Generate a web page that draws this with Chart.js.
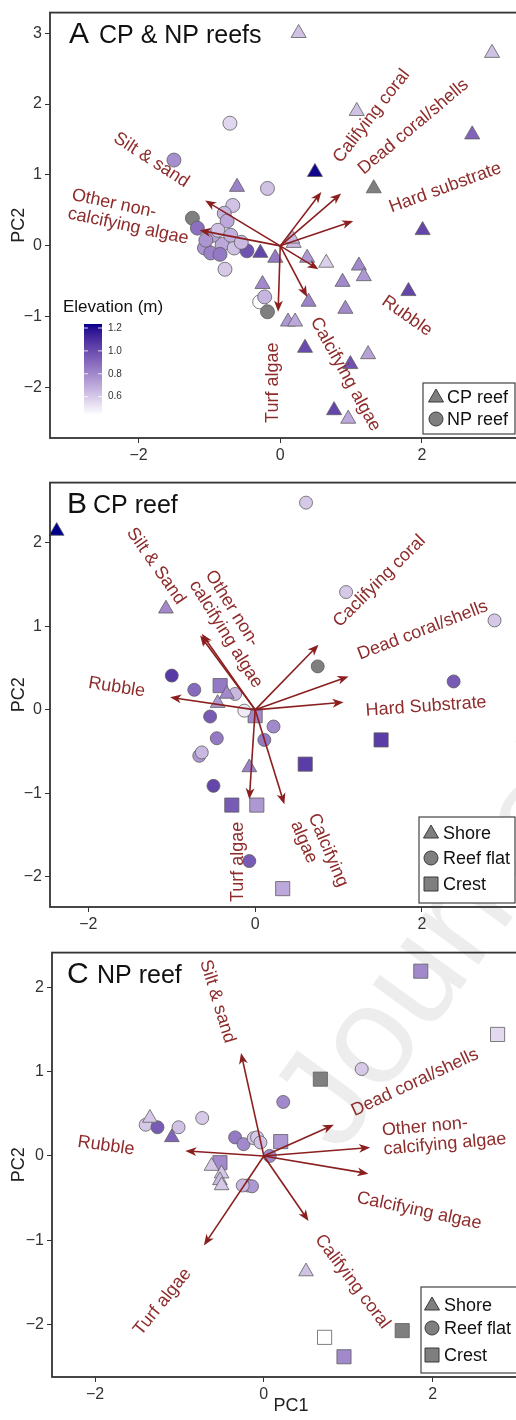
<!DOCTYPE html>
<html>
<head>
<meta charset="utf-8">
<script src="https://cdn.jsdelivr.net/npm/chart.js@4.4.1/dist/chart.umd.min.js"></script>
<style>
  body { margin: 0; width: 516px; height: 1420px; overflow: hidden; background: #fff; position: relative; }
  canvas { position: absolute; left: 0; }
</style>
</head>
<body>
<canvas id="mark" width="516" height="1420" style="top:0"></canvas>
<canvas id="chartA" width="532" height="470" style="top:0"></canvas>
<canvas id="chartB" width="532" height="470" style="top:470px"></canvas>
<canvas id="chartC" width="532" height="480" style="top:940px"></canvas>
<script>
// ---- Panel A: CP & NP reefs ----
var aXTicks = [-2, 0, 2];
var aYTicks = [-2, -1, 0, 1, 2, 3];
var aCpX = [0.26, 2.99, 1.08, 2.71, 0.49, 1.32, 2.01, -0.61, -0.28, -0.07, 0.19, 0.17, 0.38, 0.65, 1.11, 1.18, 0.88, 1.81, -0.25, 0.40, 0.92, 0.11, 0.21, 0.35, 1.24, 0.99, 0.76, 0.96];
var aCpY = [3.00, 2.72, 1.90, 1.57, 1.04, 0.81, 0.22, 0.83, -0.10, -0.17, 0.04, 0.10, -0.17, -0.24, -0.28, -0.43, -0.51, -0.64, -0.54, -0.79, -0.89, -1.07, -1.07, -1.44, -1.53, -1.67, -2.32, -2.44];
var aCpElev = [0.62, 0.62, 0.62, 0.92, 1.22, null, 1.02, 0.82, 1.02, 0.85, 0.65, 0.65, 0.75, 0.58, 0.8, 0.75, 0.8, 1.02, 0.8, 0.82, 0.8, 0.75, 0.7, 1.0, 0.72, 0.98, 1.02, 0.7];
var aNpX = [-0.71, -1.50, -0.67, -1.24, -1.17, -0.79, -0.75, -0.18, -1.07, -0.98, -0.82, -0.65, -0.47, -0.78, -0.29, -0.22, -0.18, -0.95, -0.88, -1.05, -0.70, -0.85, -0.55];
var aNpY = [1.73, 1.21, 0.57, 0.39, 0.25, 0.46, 0.35, 0.81, -0.03, -0.10, 0.02, -0.03, -0.07, -0.33, -0.79, -0.72, -0.93, 0.15, 0.22, 0.08, 0.15, -0.12, 0.05];
var aNpElev = [0.56, 0.78, 0.62, null, 0.88, 0.66, 0.7, 0.62, 0.76, 0.82, 0.7, 0.62, 0.98, 0.6, 0.45, 0.66, null, 0.72, 0.62, 0.76, 0.68, 0.85, 0.65];
var aVars = ['Califying coral', 'Dead coral/shells', 'Hard substrate', 'Rubble', 'Calcifying algae', 'Turf algae', 'Other non-\ncalcifying algae', 'Silt & sand'];
var aLoadX = [0.58, 0.86, 1.03, 0.54, 0.38, -0.03, -1.14, -1.06];
var aLoadY = [0.76, 0.74, 0.35, -0.33, -0.72, -0.93, 0.22, 0.64];

// ---- Panel B: CP reef ----
var bXTicks = [-2, 0, 2];
var bYTicks = [-2, -1, 0, 1, 2];
var bShoreX = [-2.38, -1.07, -0.34, -0.07, -0.45];
var bShoreY = [2.14, 1.21, 0.19, -0.69, 0.08];
var bShoreElev = [1.24, 0.8, 0.8, 0.82, 0.75];
var bFlatX = [-1.00, -0.73, -0.24, 0.61, 1.09, 2.87, 0.75, 2.38, -0.54, -0.46, -0.67, -0.64, -0.50, -0.13, -0.07, 0.22, 0.11];
var bFlatY = [0.41, 0.24, 0.19, 2.48, 1.41, 1.07, 0.52, 0.34, -0.08, -0.34, -0.55, -0.51, -0.91, -0.01, -1.81, -0.20, -0.36];
var bFlatElev = [1.06, 0.9, 0.65, 0.6, 0.6, 0.6, null, 0.95, 0.95, 0.85, 0.75, 0.65, 1.02, 0.5, 0.95, 0.8, 0.85];
var bCrestX = [-0.42, -0.28, 0.00, 1.51, 0.60, 0.02, 0.33];
var bCrestY = [0.29, -1.14, -0.07, -0.36, -0.65, -1.14, -2.14];
var bCrestElev = [0.85, 0.95, 0.8, 1.05, 1.05, 0.75, 0.7];
var bVars = ['Caclifying coral', 'Dead coral/shells', 'Hard Substrate', 'Rubble', 'Calcifying\nalgae', 'Turf algae', 'Other non-\ncalcifying algae', 'Silt & Sand'];
var bLoadX = [0.76, 1.12, 1.06, -1.02, 0.35, -0.07, -0.66, -0.64];
var bLoadY = [0.78, 0.40, 0.09, 0.15, -1.13, -1.07, 0.89, 0.91];

// ---- Panel C: NP reef ----
var cXTicks = [-2, 0, 2];
var cYTicks = [-2, -1, 0, 1, 2];
var cShoreX = [-1.35, -1.09, -0.62, -0.50, -0.52, -0.50, 0.50];
var cShoreY = [0.45, 0.22, -0.12, -0.21, -0.29, -0.35, -1.37];
var cShoreElev = [0.6, 0.92, 0.6, 0.6, 0.65, 0.6, 0.62];
var cFlatX = [-1.40, -1.26, -1.01, -0.73, -0.34, -0.24, -0.12, 1.16, 0.23, -0.08, -0.04, 0.07, -0.19, -0.14, -0.25];
var cFlatY = [0.37, 0.34, 0.34, 0.45, 0.22, 0.14, 0.21, 1.03, 0.64, 0.22, 0.16, 0.00, -0.35, -0.36, -0.35];
var cFlatElev = [0.6, 0.95, 0.62, 0.6, 0.85, 0.8, 0.6, 0.6, 0.8, 0.6, 0.62, 0.8, 0.7, 0.75, 0.65];
var cCrestX = [1.86, 2.77, 0.67, 0.20, -0.52, 0.72, 0.95, 1.64];
var cCrestY = [2.19, 1.44, 0.91, 0.17, -0.08, -2.15, -2.38, -2.07];
var cCrestElev = [0.8, 0.55, null, 0.75, 0.8, 0.44, 0.8, null];
var cVars = ['Califying coral', 'Dead coral/shells', 'Other non-\ncalcifying algae', 'Rubble', 'Calcifying algae', 'Turf algae', 'Silt & sand'];
var cLoadX = [0.53, 0.83, 1.26, -0.93, 1.24, -0.71, -0.27];
var cLoadY = [-0.77, 0.37, 0.10, 0.06, -0.21, -1.06, 1.22];

// elevation colour bar
var elevRange = [0.44, 1.235];
var elevBreaks = [0.6, 0.8, 1.0, 1.2];

var FONT = '"Liberation Sans", Arial, sans-serif';
var RED = '#8b1f1f';
var TXT = '#8e2c2c';

// white -> dark blue, interpolated in Lab like ggplot
function lin(c) { c /= 255; return c <= 0.04045 ? c / 12.92 : Math.pow((c + 0.055) / 1.055, 2.4); }
function gam(c) { c = c <= 0.0031308 ? 12.92 * c : 1.055 * Math.pow(c, 1 / 2.4) - 0.055; return Math.round(Math.max(0, Math.min(1, c)) * 255); }
function toLab(r, g, b) {
    r = lin(r); g = lin(g); b = lin(b);
    var X = (0.4124 * r + 0.3576 * g + 0.1805 * b) / 0.95047;
    var Y = 0.2126 * r + 0.7152 * g + 0.0722 * b;
    var Z = (0.0193 * r + 0.1192 * g + 0.9505 * b) / 1.08883;
    function f(t) { return t > 0.008856 ? Math.cbrt(t) : 7.787 * t + 16 / 116; }
    return [116 * f(Y) - 16, 500 * (f(X) - f(Y)), 200 * (f(Y) - f(Z))];
}
function fromLab(L, a, b) {
    var fy = (L + 16) / 116, fx = fy + a / 500, fz = fy - b / 200;
    function fi(t) { return t > 0.206893 ? t * t * t : (t - 16 / 116) / 7.787; }
    var X = fi(fx) * 0.95047, Y = fi(fy), Z = fi(fz) * 1.08883;
    return 'rgb(' + gam(3.2406 * X - 1.5372 * Y - 0.4986 * Z) + ',' +
        gam(-0.9689 * X + 1.8758 * Y + 0.0415 * Z) + ',' +
        gam(0.0557 * X - 0.2040 * Y + 1.0570 * Z) + ')';
}
var LOW = toLab(255, 255, 255), HIGH = toLab(0, 0, 139);
function elevColor(v) {
    if (v === null) return '#7f7f7f';
    var t = Math.max(0, Math.min(1, (v - elevRange[0]) / (elevRange[1] - elevRange[0])));
    return fromLab(LOW[0] + t * (HIGH[0] - LOW[0]), LOW[1] + t * (HIGH[1] - LOW[1]), LOW[2] + t * (HIGH[2] - LOW[2]));
}

function fmt(v) { return v < 0 ? '\u2212' + (-v) : String(v); }

function axis(min, max, ticks, size, horiz) {
    return {
        type: 'linear', min: min, max: max,
        afterBuildTicks: function (s) { s.ticks = ticks.map(function (v) { return { value: v }; }); },
        afterFit: function (s) { if (horiz) s.height = size; else s.width = size; },
        grid: { drawOnChartArea: false, drawTicks: true, tickLength: 5, color: '#333', lineWidth: 1 },
        border: { display: false },
        ticks: { color: '#333', padding: 3, autoSkip: false, maxRotation: 0, font: { family: FONT, size: 16 }, callback: fmt }
    };
}

function symbol(ctx, style, x, y) {
    ctx.beginPath();
    if (style === 'triangle') {
        ctx.moveTo(x, y - 8); ctx.lineTo(x + 7.5, y + 5); ctx.lineTo(x - 7.5, y + 5); ctx.closePath();
    } else if (style === 'circle') {
        ctx.arc(x, y, 7, 0, Math.PI * 2);
    } else {
        ctx.rect(x - 7, y - 7, 14, 14);
    }
    ctx.fill(); ctx.stroke();
}

function biplot(cfg) {
    return {
        id: 'biplot',
        afterDatasetsDraw: function (chart) {
            var ctx = chart.ctx, xs = chart.scales.x, ys = chart.scales.y, a = chart.chartArea;
            ctx.save();
            // loading arrows
            var x0 = xs.getPixelForValue(0), y0 = ys.getPixelForValue(0);
            ctx.strokeStyle = RED; ctx.fillStyle = RED; ctx.lineWidth = 1.6;
            cfg.loadX.forEach(function (lx, i) {
                var x1 = xs.getPixelForValue(lx), y1 = ys.getPixelForValue(cfg.loadY[i]);
                var t = Math.atan2(y1 - y0, x1 - x0);
                ctx.beginPath(); ctx.moveTo(x0, y0);
                ctx.lineTo(x1 - 6 * Math.cos(t), y1 - 6 * Math.sin(t)); ctx.stroke();
                ctx.beginPath(); ctx.moveTo(x1, y1);
                ctx.lineTo(x1 - 12 * Math.cos(t - 0.38), y1 - 12 * Math.sin(t - 0.38));
                ctx.lineTo(x1 - 8 * Math.cos(t), y1 - 8 * Math.sin(t));
                ctx.lineTo(x1 - 12 * Math.cos(t + 0.38), y1 - 12 * Math.sin(t + 0.38));
                ctx.closePath(); ctx.fill();
            });
            // variable labels; two-line labels are anchored at the start of their first line
            ctx.fillStyle = TXT; ctx.font = '18px ' + FONT;
            ctx.textBaseline = 'middle';
            cfg.names.forEach(function (name, i) {
                var p = cfg.labelPos[i], lines = name.split('\n');
                var left = p[3] === 'left';
                ctx.textAlign = left ? 'left' : 'center';
                ctx.save();
                ctx.translate(xs.getPixelForValue(p[0]), ys.getPixelForValue(p[1]));
                ctx.rotate(p[2] * Math.PI / 180);
                lines.forEach(function (s, k) {
                    ctx.fillText(s, 0, left ? k * 19 : (k - (lines.length - 1) / 2) * 19);
                });
                ctx.restore();
            });
            // panel frame
            ctx.strokeStyle = '#333'; ctx.lineWidth = 1.8;
            ctx.strokeRect(a.left, a.top, a.right - a.left, a.bottom - a.top);
            // title
            ctx.fillStyle = '#111'; ctx.textAlign = 'left'; ctx.textBaseline = 'alphabetic';
            ctx.font = '30px ' + FONT;
            ctx.fillText(cfg.title[0], cfg.titleX[0], a.top + 30);
            ctx.font = '25px ' + FONT;
            ctx.fillText(cfg.title[1], cfg.titleX[1], a.top + 30);
            // axis titles
            ctx.font = '18px ' + FONT; ctx.fillStyle = '#222'; ctx.textAlign = 'center'; ctx.textBaseline = 'middle';
            ctx.save(); ctx.translate(19, (a.top + a.bottom) / 2); ctx.rotate(-Math.PI / 2);
            ctx.fillText('PC2', 0, 0); ctx.restore();
            if (cfg.xTitle) ctx.fillText(cfg.xTitle, 291, a.bottom + 29);
            // shape legend
            var L = cfg.legend;
            ctx.fillStyle = '#fff'; ctx.fillRect(L.box[0], L.box[1], L.box[2], L.box[3]);
            ctx.strokeStyle = '#444'; ctx.lineWidth = 1.2;
            ctx.strokeRect(L.box[0], L.box[1], L.box[2], L.box[3]);
            L.items.forEach(function (it, k) {
                ctx.fillStyle = '#7f7f7f'; ctx.strokeStyle = '#3a3a3a'; ctx.lineWidth = 1;
                symbol(ctx, it[0], L.symX, L.rows[k]);
                ctx.fillStyle = '#111'; ctx.font = '18px ' + FONT; ctx.textAlign = 'left';
                ctx.fillText(it[1], L.textX, L.rows[k] + 1);
            });
            // elevation colour bar
            if (cfg.colorbar) {
                var cb = cfg.colorbar, span = elevRange[1] - elevRange[0];
                var yOf = function (v) { return cb.top + (elevRange[1] - v) / span * cb.h; };
                for (var py = 0; py < cb.h; py++) {
                    ctx.fillStyle = elevColor(elevRange[1] - (py + 0.5) / cb.h * span);
                    ctx.fillRect(cb.left, cb.top + py, cb.w, 1);
                }
                ctx.fillStyle = '#111'; ctx.font = '17px ' + FONT; ctx.textAlign = 'left'; ctx.textBaseline = 'alphabetic';
                ctx.fillText('Elevation (m)', 63, cb.top - 12);
                ctx.font = '10px ' + FONT; ctx.textBaseline = 'middle'; ctx.fillStyle = '#333';
                ctx.strokeStyle = 'rgba(255,255,255,0.8)'; ctx.lineWidth = 1;
                elevBreaks.forEach(function (v) {
                    var y = yOf(v);
                    ctx.fillText(v.toFixed(1), cb.left + cb.w + 6, y);
                    ctx.beginPath();
                    ctx.moveTo(cb.left, y); ctx.lineTo(cb.left + 4, y);
                    ctx.moveTo(cb.left + cb.w - 4, y); ctx.lineTo(cb.left + cb.w, y);
                    ctx.stroke();
                });
            }
            ctx.restore();
        }
    };
}

function makePanel(id, cfg) {
    var canvas = document.getElementById(id);
    var H = canvas.height;
    return new Chart(canvas.getContext('2d'), {
        type: 'scatter',
        data: {
            datasets: cfg.sets.map(function (s) {
                return {
                    data: s.x.map(function (v, i) { return { x: v, y: s.y[i] }; }),
                    pointStyle: s.style,
                    pointRadius: s.r,
                    pointBackgroundColor: s.elev.map(elevColor),
                    pointBorderColor: '#5e5e5e',
                    pointBorderWidth: 0.8,
                    clip: false
                };
            })
        },
        options: {
            responsive: false,
            animation: false,
            events: [],
            layout: { padding: { top: cfg.top, right: 2, left: 0, bottom: 0 } },
            scales: {
                x: axis(cfg.xRange[0], cfg.xRange[1], cfg.xTicks, H - cfg.bottom, true),
                y: axis(cfg.yRange[0], cfg.yRange[1], cfg.yTicks, cfg.left, false)
            },
            plugins: { legend: { display: false }, tooltip: { enabled: false } }
        },
        plugins: [biplot(cfg)]
    });
}

// faint journal watermark behind the panels
var wm = document.getElementById('mark').getContext('2d');
wm.save();
wm.translate(340, 1155);
wm.rotate(-54 * Math.PI / 180);
wm.font = '140px ' + FONT;
wm.fillStyle = 'rgba(0,0,0,0.07)';
wm.fillText('Journal Pre-proof', 0, 0);
wm.restore();

makePanel('chartA', {
    top: 6, bottom: 438, left: 50,
    xRange: [-3.25, 3.42], yRange: [-2.71, 3.29],
    xTicks: aXTicks, yTicks: aYTicks,
    sets: [
        { x: aCpX, y: aCpY, elev: aCpElev, style: 'triangle', r: 8.7 },
        { x: aNpX, y: aNpY, elev: aNpElev, style: 'circle', r: 7 }
    ],
    names: aVars, loadX: aLoadX, loadY: aLoadY,
    labelPos: [[1.29, 1.83, -52], [1.88, 1.68, -40], [2.33, 0.82, -20], [1.79, -0.99, 35],
               [0.92, -1.81, 61], [-0.1, -1.93, -90], [-2.94, 0.72, 12, 'left'], [-1.82, 1.21, 33]],
    title: ['A', 'CP & NP reefs'], titleX: [69, 99],
    legend: { box: [423, 383, 92, 51], symX: 436, textX: 447, rows: [397, 419],
              items: [['triangle', 'CP reef'], ['circle', 'NP reef']] },
    colorbar: { left: 84, top: 324, w: 18, h: 91 }
});

makePanel('chartB', {
    top: 5, bottom: 437, left: 50,
    xRange: [-2.46, 3.19], yRange: [-2.36, 2.72],
    xTicks: bXTicks, yTicks: bYTicks,
    sets: [
        { x: bShoreX, y: bShoreY, elev: bShoreElev, style: 'triangle', r: 8.5 },
        { x: bFlatX, y: bFlatY, elev: bFlatElev, style: 'circle', r: 6.5 },
        { x: bCrestX, y: bCrestY, elev: bCrestElev, style: 'rect', r: 10 }
    ],
    names: bVars, loadX: bLoadX, loadY: bLoadY,
    labelPos: [[1.49, 1.54, -45], [2.01, 0.95, -21], [2.05, 0.04, -4], [-1.66, 0.27, 9],
               [0.69, -1.25, 67, 'left'], [-0.2, -1.82, -90], [-0.55, 1.65, 58, 'left'], [-1.19, 1.72, 55]],
    title: ['B', 'CP reef'], titleX: [67, 93],
    legend: { box: [419, 347, 96, 86], symX: 431, textX: 443, rows: [363, 388, 414],
              items: [['triangle', 'Shore'], ['circle', 'Reef flat'], ['rect', 'Crest']] }
});

makePanel('chartC', {
    top: 5, bottom: 437, left: 52,
    xRange: [-2.51, 3.05], yRange: [-2.62, 2.41],
    xTicks: cXTicks, yTicks: cYTicks,
    sets: [
        { x: cShoreX, y: cShoreY, elev: cShoreElev, style: 'triangle', r: 8.5 },
        { x: cFlatX, y: cFlatY, elev: cFlatElev, style: 'circle', r: 6.5 },
        { x: cCrestX, y: cCrestY, elev: cCrestElev, style: 'rect', r: 10 }
    ],
    names: cVars, loadX: cLoadX, loadY: cLoadY,
    labelPos: [[1.05, -1.49, 53], [1.79, 0.87, -25], [1.40, 0.30, -5, 'left'], [-1.87, 0.12, 8],
               [1.84, -0.65, 12], [-1.2, -1.73, -51], [-0.55, 1.83, 73]],
    title: ['C', 'NP reef'], titleX: [67, 97],
    legend: { box: [421, 347, 96, 86], symX: 432, textX: 444, rows: [365, 388, 415],
              items: [['triangle', 'Shore'], ['circle', 'Reef flat'], ['rect', 'Crest']] },
    xTitle: 'PC1'
});
</script>
</body>
</html>
